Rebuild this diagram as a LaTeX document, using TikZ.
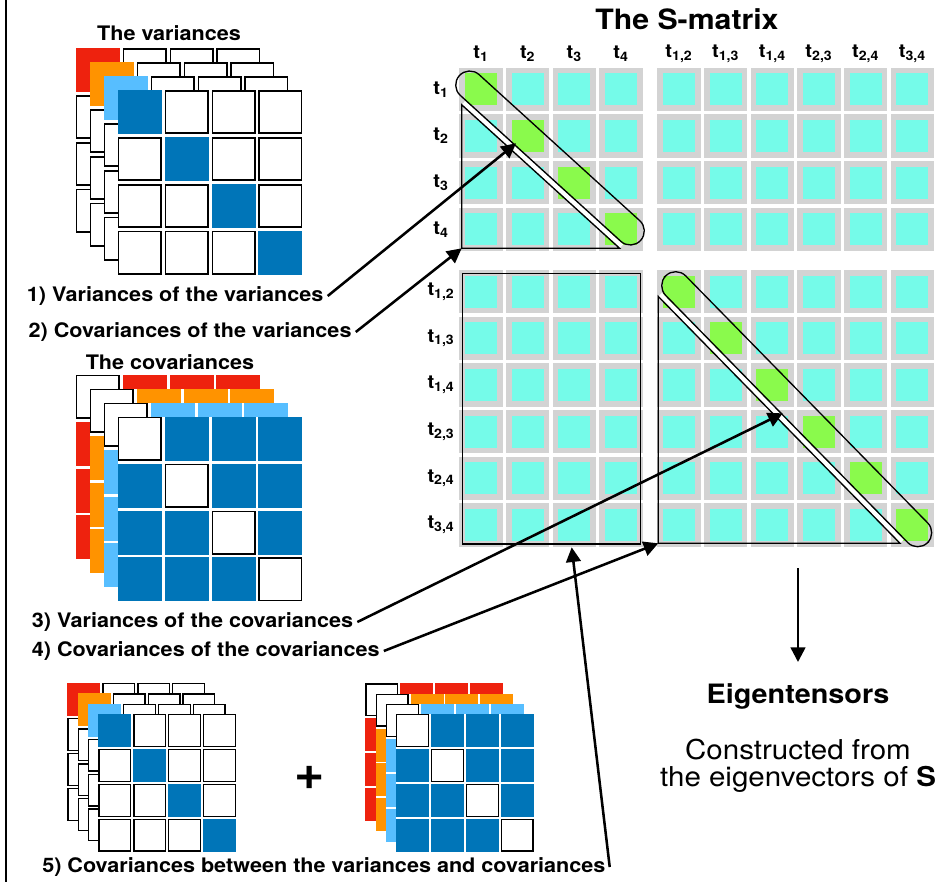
\documentclass[tikz,border=0pt]{standalone}
\usepackage{fontspec}
\setmainfont{TeX Gyre Heros}[FakeStretch=1.08]
\usetikzlibrary{arrows.meta}

\definecolor{cellgray}{RGB}{211,211,211}
\definecolor{cellcyan}{RGB}{117,251,233}
\definecolor{cellgreen}{RGB}{138,250,76}
\definecolor{tred}{RGB}{238,34,14}
\definecolor{torange}{RGB}{255,147,0}
\definecolor{tlight}{RGB}{87,190,255}
\definecolor{tblue}{RGB}{0,117,184}

% Stack of four 4x4 layers.
% #1,#2 top-left corner of the front layer; #3 cell pitch; #4 cell size;
% #5 shift between layers; #6 kind (0 = variances, 1 = covariances); #7 border width (px)
\newcommand\drawstack[7]{%
  \pgfmathsetmacro\lwpt{#7*0.75}%
  \foreach \L/\lc in {3/tred,2/torange,1/tlight,0/tblue}{
    \pgfmathsetmacro\ox{#1-\L*#5}
    \pgfmathsetmacro\oy{#2-\L*#5}
    \fill[white] (\ox,\oy) rectangle ++(3*#3+#4,3*#3+#4);
    \foreach \i in {0,...,3}{
      \foreach \j in {0,...,3}{
        \pgfmathsetmacro\cx{\ox+\i*#3}
        \pgfmathsetmacro\cy{\oy+\j*#3}
        \pgfmathtruncatemacro\isdiag{\i==\j}
        \pgfmathtruncatemacro\iscorner{\i+\j==0}
        \pgfmathtruncatemacro\isfront{\L==0}
        \pgfmathtruncatemacro\base{\isfront*\isdiag+(1-\isfront)*\iscorner}
        \pgfmathtruncatemacro\colored{#6+(1-2*#6)*\base}
        \ifnum\colored=1
          \fill[\lc] (\cx,\cy) rectangle ++(#4,#4);
        \else
          \filldraw[fill=white, draw=black, line width=\lwpt pt]
            (\cx+#7/2,\cy+#7/2) rectangle (\cx+#4-#7/2,\cy+#4-#7/2);
        \fi
      }
    }
  }%
}

\tikzset{
  lbl/.style={font=\bfseries\fontsize{15}{17}\selectfont, inner sep=3pt},
  hdr/.style={font=\bfseries\fontsize{14}{16}\selectfont, inner sep=1pt},
  arr/.style={line width=1.9pt, -{Triangle[length=11pt,width=11pt]}},
  outline/.style={draw=black, line width=1pt},
  capsule/.style={draw=black, line width=1pt, rounded corners=10.5pt,
                  minimum height=21pt, inner sep=0pt},
  strip/.style={white, line width=3.4pt},
}

\begin{document}
\begin{tikzpicture}[x=0.75pt,y=-0.75pt]
\fill[white] (0,0) rectangle (945,882);
\useasboundingbox (0,0) rectangle (945,882);

% frame edge on the left
\draw[line width=1.1pt] (6,0) -- (6,882);

% ---------- stacks of matrices ----------
\node[lbl] (tvar) at (169,33) {The variances};
\drawstack{117.7}{90}{46.9}{44}{14}{0}{1.7}
\node[lbl] (tcov) at (170,362) {The covariances};
\drawstack{117.7}{416.7}{46.9}{44}{14}{1}{1.7}

\drawstack{98.3}{714}{34.9}{33}{10.3}{0}{1.3}
\node[font=\bfseries\fontsize{36}{36}\selectfont, inner sep=0pt] (plus) at (310,778) {+};
\drawstack{396}{714}{34.9}{33}{10.2}{1}{1.3}

% ---------- the S-matrix ----------
\node[font=\bfseries\fontsize{21}{24}\selectfont] (stitle) at (687,19) {The S-matrix};

\foreach \r in {0,...,9}{
  \foreach \c in {0,...,9}{
    \pgfmathsetmacro\cx{\c<4 ? 459.3+46.67*\c : 657.3+46.67*(\c-4)}
    \pgfmathsetmacro\cy{\r<4 ? 67.8+46.67*\r : 270+46.67*(\r-4)}
    \ifnum\r=\c\relax \def\cellfill{cellgreen}\else \def\cellfill{cellcyan}\fi
    \fill[cellgray] (\cx,\cy) rectangle ++(43.3,43.3);
    \fill[\cellfill] (\cx+5.6,\cy+5.6) rectangle ++(32,32);
  }
}

\foreach \s [count=\k from 0] in {1,2,3,4,{1,2},{1,3},{1,4},{2,3},{2,4},{3,4}}{
  \pgfmathsetmacro\px{\k<4 ? 459.3+46.67*\k+21.65 : 657.3+46.67*(\k-4)+21.65}
  \pgfmathsetmacro\py{\k<4 ? 67.8+46.67*\k+21.65 : 270+46.67*(\k-4)+21.65}
  \node[hdr] (col\k) at (\px,54) {t\textsubscript{\s}};
  \node[hdr] (row\k) at (441,\py) {t\textsubscript{\s}};
}

% white gaps between the diagonal bands and the triangles
\draw[strip] (463.7,102.6) -- (621.6,246.1);
\draw[strip] (660.4,294.4) -- (902.1,541.2);

% triangles and block outline
\draw[outline] (461.7,104.8) -- (461.7,248.3) -- (619.6,248.3) -- cycle;
\draw[outline] (658.3,296.5) -- (658.3,543.3) -- (900,543.3) -- cycle;
\draw[outline] (462.3,273.3) rectangle (640.7,544);

% diagonal bands
\node[capsule, minimum width=183.75pt, rotate=-42.27] (bandA) at (550,158) {};
\node[capsule, minimum width=280.35pt, rotate=-45.59] (bandB) at (796.7,409.2) {};

% ---------- labels and arrows ----------
\node[lbl, anchor=west] (l1) at (22.7,296) {1) Variances of the variances};
\node[lbl, anchor=west] (l2) at (24.3,332) {2) Covariances of the variances};
\node[lbl, anchor=west] (l3) at (27.7,622) {3) Variances of the covariances};
\node[lbl, anchor=west] (l4) at (27.7,651) {4) Covariances of the covariances};
\node[lbl, anchor=west] (l5) at (38,867) {5) Covariances between the variances and covariances};

\coordinate (p1) at (516,143.3);
\coordinate (p2) at (461.7,248.3);
\coordinate (p3) at (782.7,413.3);
\coordinate (p4) at (658.3,543.3);
\coordinate (p5) at (571.7,547.3);

\draw[arr] (l1.east) -- (p1);
\draw[arr] (l2.east) -- (p2);
\draw[arr] (l3.east) -- (p3);
\draw[arr] (l4.east) -- (p4);
\draw[arr] (l5.east) -- (p5);

% ---------- eigentensors ----------
\coordinate (ea) at (798,568);
\coordinate (eb) at (798,662);
\draw[arr] (ea) -- (eb);
\node[font=\bfseries\fontsize{20}{24}\selectfont] (eig) at (798,696) {Eigentensors};
\node[font=\fontsize{20.5}{20.5}\selectfont, align=center] (constr) at (798,766)
  {Constructed from\\the eigenvectors of \textbf{S}};
\end{tikzpicture}
\end{document}
